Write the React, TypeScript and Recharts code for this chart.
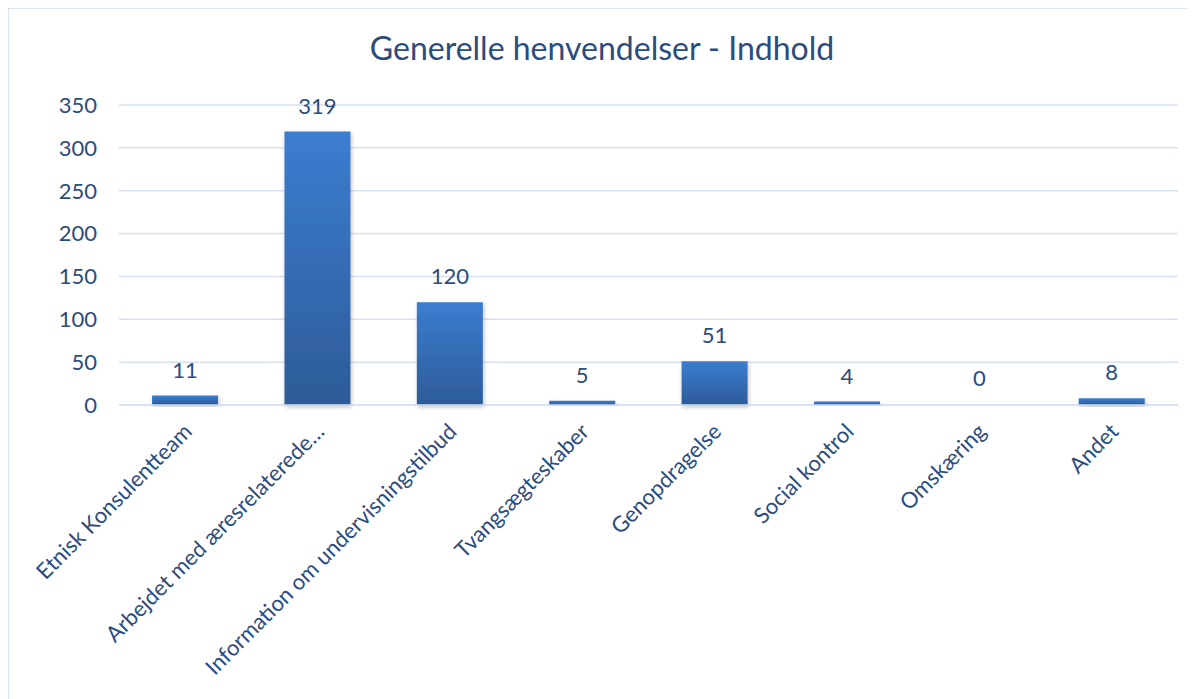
import React from 'react';
import { BarChart, Bar, XAxis, YAxis, CartesianGrid, LabelList, Cell } from 'recharts';

const categories = [
  'Etnisk Konsulentteam',
  'Arbejdet med æresrelaterede…',
  'Information om undervisningstilbud',
  'Tvangsægteskaber',
  'Genopdragelse',
  'Social kontrol',
  'Omskæring',
  'Andet',
];
const counts = [11, 319, 120, 5, 51, 4, 0, 8];
const yTicks = [0, 50, 100, 150, 200, 250, 300, 350];

const data = categories.map((name, i) => ({ name, value: counts[i] }));

const TEXT = '#2B4C7E';
const FONT = 'Lato, "Noto Sans", sans-serif';

const XTick = (props: any) => {
  const { x, y, payload } = props;
  return (
    <text
      transform={`translate(${x + 8}, ${y + 20}) rotate(-45)`}
      textAnchor="end"
      fill={TEXT}
      fontSize={22}
      fontFamily={FONT}
    >
      {payload.value}
    </text>
  );
};

export default function App() {
  return (
    <div
      style={{
        position: 'relative',
        width: 1186,
        height: 690,
        border: '1px solid #D9E4F2',
        borderRight: 'none',
        borderBottom: 'none',
        background: '#fff',
      }}
    >
      <div
        style={{
          position: 'absolute',
          top: 19,
          left: 0,
          width: 1186,
          textAlign: 'center',
          color: TEXT,
          fontFamily: FONT,
          fontSize: 32,
        }}
      >
        Generelle henvendelser - Indhold
      </div>
      <BarChart
        width={1186}
        height={690}
        data={data}
        margin={{ top: 96, right: 17, left: 0, bottom: 0 }}
        barCategoryGap="25%"
      >
        <defs>
          <linearGradient id="barFill" x1="0" y1="0" x2="0" y2="1">
            <stop offset="0%" stopColor="#3B7DD0" />
            <stop offset="100%" stopColor="#2D5B98" />
          </linearGradient>
          <filter id="barShadow" x="-20%" y="-20%" width="140%" height="140%">
            <feDropShadow dx="1" dy="2" stdDeviation="2" floodColor="#000" floodOpacity="0.25" />
          </filter>
        </defs>
        <CartesianGrid vertical={false} stroke="#D6E0F0" strokeWidth={1.5} />
        <XAxis
          dataKey="name"
          interval={0}
          height={294}
          tick={<XTick />}
          tickLine={false}
          axisLine={{ stroke: '#D6E0F0', strokeWidth: 1.5 }}
        />
        <YAxis
          width={110}
          domain={[0, 350]}
          ticks={yTicks}
          tickSize={0}
          tickMargin={22}
          axisLine={false}
          tickLine={false}
          tick={{ fill: TEXT, fontSize: 22, fontFamily: FONT }}
        />
        <Bar dataKey="value" fill="url(#barFill)" minPointSize={1} isAnimationActive={false}>
          {data.map((d, i) => (
            <Cell
              key={`cell-${i}`}
              fill={d.value === 0 ? 'transparent' : 'url(#barFill)'}
              filter={d.value === 0 ? undefined : 'url(#barShadow)'}
            />
          ))}
          <LabelList
            dataKey="value"
            position="top"
            offset={18}
            fill={TEXT}
            fontSize={22}
            fontFamily={FONT}
          />
        </Bar>
      </BarChart>
    </div>
  );
}
